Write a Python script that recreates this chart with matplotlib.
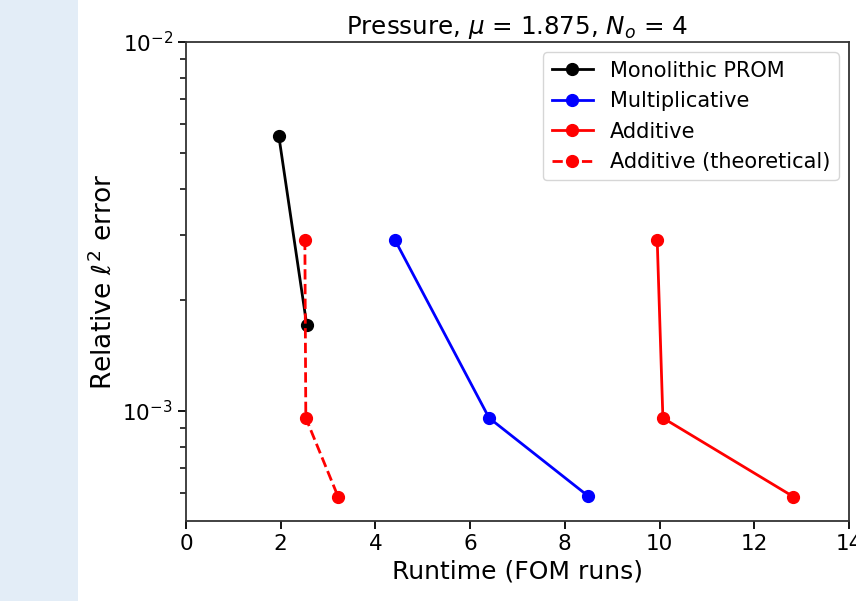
import matplotlib
matplotlib.use("Agg")
from matplotlib import pyplot as plt
from matplotlib.patches import Rectangle

# datos (runtime en corridas FOM, error relativo)
mono_x = [1.96, 2.55]
mono_y = [5.56e-3, 1.71e-3]

mult_x = [4.41, 6.40, 8.49]
mult_y = [2.91e-3, 9.57e-4, 5.88e-4]

add_x = [9.95, 10.07, 12.82]
add_y = [2.91e-3, 9.57e-4, 5.86e-4]

addt_x = [2.51, 2.53, 3.21]
addt_y = [2.91e-3, 9.57e-4, 5.86e-4]

fig = plt.figure(figsize=(8.56, 6.01), dpi=100)

# franja celeste a la izquierda
fig.patches.append(Rectangle((0, 0), 78 / 856, 1, transform=fig.transFigure,
                             facecolor="#e3edf7", edgecolor="none", zorder=0))

ax = fig.add_axes([186 / 856, 80 / 601, 663 / 856, 479 / 601])

lw = 2.0
ms = 8.5
ax.plot(mono_x, mono_y, "-o", color="black", lw=lw, ms=ms, label="Monolithic PROM")
ax.plot(mult_x, mult_y, "-o", color="blue", lw=lw, ms=ms, label="Multiplicative")
ax.plot(add_x, add_y, "-o", color="red", lw=lw, ms=ms, label="Additive")
ax.plot(addt_x, addt_y, "--o", color="red", lw=lw, ms=ms, label="Additive (theoretical)")

ax.set_yscale("log")
ax.set_xlim(0, 14)
ax.set_ylim(5.03e-4, 1e-2)
ax.set_xticks([0, 2, 4, 6, 8, 10, 12, 14])

ax.set_title(r"Pressure, $\mu$ = 1.875, $N_o$ = 4", fontsize=17.7, pad=6)
ax.set_xlabel("Runtime (FOM runs)", fontsize=18)
ax.set_ylabel(r"Relative $\ell^2$ error", fontsize=19)
ax.tick_params(axis="both", which="major", labelsize=15.5, length=6, width=1.3)
ax.tick_params(axis="both", which="minor", length=4, width=1.1)
for s in ax.spines.values():
    s.set_linewidth(1.3)
    s.set_color("#333333")

ax.legend(loc="upper right", fontsize=15, borderaxespad=0.5)

fig.savefig("out.png", dpi=100)
